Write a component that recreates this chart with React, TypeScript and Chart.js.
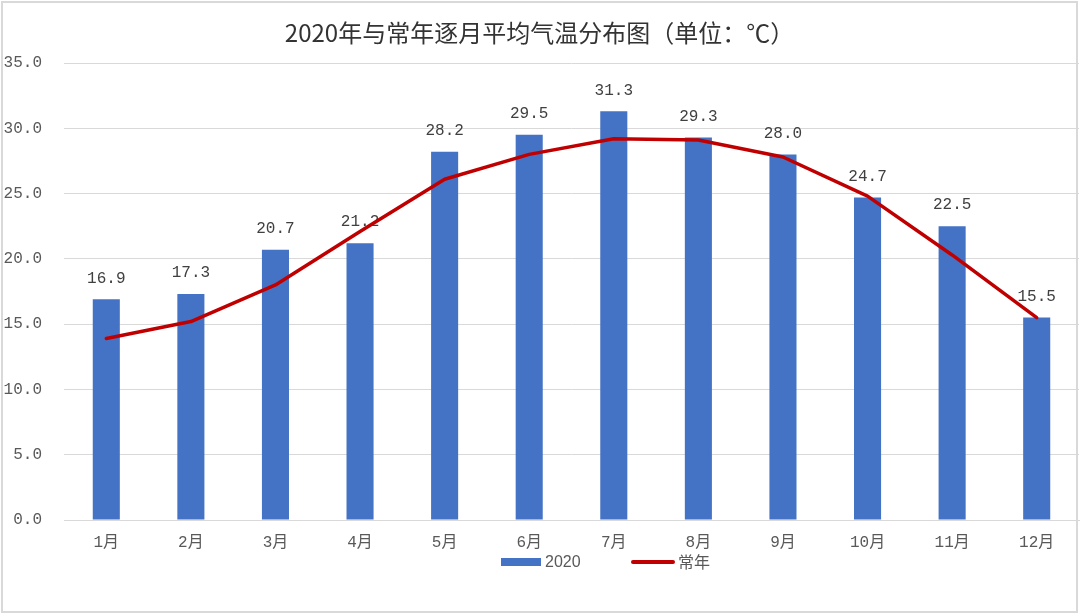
import React, { useEffect, useRef } from "react";
import { Chart, registerables } from "chart.js";

Chart.register(...registerables);

const chartTitle = "2020年与常年逐月平均气温分布图（单位：℃）";
const months = ["1月", "2月", "3月", "4月", "5月", "6月", "7月", "8月", "9月", "10月", "11月", "12月"];
const seriesNames = ["2020", "常年"];
const values2020 = [16.9, 17.3, 20.7, 21.2, 28.2, 29.5, 31.3, 29.3, 28.0, 24.7, 22.5, 15.5];
const normalValues = [13.9, 15.2, 18.0, 22.1, 26.1, 28.0, 29.2, 29.1, 27.8, 24.8, 20.3, 15.5];
const yMin = 0;
const yMax = 35;
const yStep = 5;

const BAR_COLOR = "#4472C4";
const LINE_COLOR = "#C00000";
const GRID_COLOR = "#D9D9D9";
const TEXT_COLOR = "#595959";
const NUM_FONT = "'Liberation Mono', 'Noto Sans CJK SC', monospace";
const CJK_FONT = "'Noto Sans CJK SC', sans-serif";

const framePlugin = {
  id: "frame",
  beforeDraw(chart: any) {
    const ctx = chart.ctx;
    ctx.save();
    ctx.fillStyle = "#ffffff";
    ctx.fillRect(0, 0, chart.width, chart.height);
    ctx.restore();
  },
  afterDraw(chart: any) {
    const ctx = chart.ctx;
    ctx.save();
    ctx.strokeStyle = GRID_COLOR;
    ctx.lineWidth = 2;
    ctx.strokeRect(2, 2, chart.width - 5, chart.height - 5);
    ctx.restore();
  },
};

const barLabelPlugin = {
  id: "barLabels",
  afterDatasetDraw(chart: any, args: any) {
    if (args.index !== 0) return;
    const ctx = chart.ctx;
    const meta = chart.getDatasetMeta(0);
    const data = chart.data.datasets[0].data;
    ctx.save();
    ctx.font = `16px ${NUM_FONT}`;
    ctx.fillStyle = "#404040";
    ctx.textAlign = "center";
    ctx.textBaseline = "middle";
    meta.data.forEach((el: any, i: number) => {
      ctx.fillText(Number(data[i]).toFixed(1), el.x, el.y - 21);
    });
    ctx.restore();
  },
};

const legendPlugin = {
  id: "customLegend",
  afterDraw(chart: any) {
    const ctx = chart.ctx;
    const y = 562;
    ctx.save();
    ctx.textBaseline = "middle";
    ctx.textAlign = "left";
    ctx.fillStyle = BAR_COLOR;
    ctx.fillRect(501, y - 4, 40, 8);
    ctx.fillStyle = TEXT_COLOR;
    ctx.font = "16px 'Liberation Sans', sans-serif";
    ctx.fillText(seriesNames[0], 545, y + 1);
    ctx.strokeStyle = LINE_COLOR;
    ctx.lineWidth = 4;
    ctx.lineCap = "round";
    ctx.beginPath();
    ctx.moveTo(633, y);
    ctx.lineTo(673, y);
    ctx.stroke();
    ctx.fillStyle = TEXT_COLOR;
    ctx.font = `16px ${CJK_FONT}`;
    ctx.fillText(seriesNames[1], 678, y);
    ctx.restore();
  },
};

export default function App() {
  const canvasRef = useRef<HTMLCanvasElement | null>(null);

  useEffect(() => {
    if (!canvasRef.current) return;
    const chart = new Chart(canvasRef.current, {
      type: "bar",
      data: {
        labels: months,
        datasets: [
          {
            type: "bar",
            label: seriesNames[0],
            data: values2020,
            backgroundColor: BAR_COLOR,
            borderWidth: 0,
            barPercentage: 0.32,
            categoryPercentage: 1,
            order: 1,
          },
          {
            type: "line",
            label: seriesNames[1],
            data: normalValues,
            borderColor: LINE_COLOR,
            backgroundColor: LINE_COLOR,
            borderWidth: 3.5,
            pointRadius: 0,
            tension: 0,
            borderCapStyle: "round",
            borderJoinStyle: "round",
            order: 0,
          },
        ],
      } as any,
      options: {
        responsive: false,
        animation: false,
        devicePixelRatio: 1,
        layout: { padding: { left: 0, right: 1, top: 0, bottom: 0 } },
        plugins: {
          legend: { display: false },
          tooltip: { enabled: false },
          title: {
            display: true,
            text: chartTitle,
            color: "#333333",
            font: { family: CJK_FONT, size: 24, weight: "normal" },
            padding: { top: 18.6, bottom: 15.6 },
          },
        },
        scales: {
          x: {
            grid: { display: false, drawTicks: false },
            border: { display: true, color: GRID_COLOR, width: 1 },
            ticks: {
              color: TEXT_COLOR,
              font: { family: NUM_FONT, size: 16 },
              padding: 13,
              maxRotation: 0,
            },
            afterFit(scale: any) {
              scale.height = 95;
            },
          },
          y: {
            min: yMin,
            max: yMax,
            grid: { color: GRID_COLOR, drawTicks: false, lineWidth: 1 },
            border: { display: false },
            ticks: {
              stepSize: yStep,
              color: TEXT_COLOR,
              font: { family: NUM_FONT, size: 16 },
              padding: 22,
              callback: (v: any) => Number(v).toFixed(1),
            },
            afterFit(scale: any) {
              scale.width = 64;
            },
          },
        },
      } as any,
      plugins: [framePlugin, barLabelPlugin, legendPlugin],
    });
    return () => chart.destroy();
  }, []);

  return (
    <div style={{ position: "fixed", left: 0, top: 0, width: 1080, height: 615 }}>
      <canvas ref={canvasRef} width={1080} height={615} style={{ display: "block" }} />
    </div>
  );
}
